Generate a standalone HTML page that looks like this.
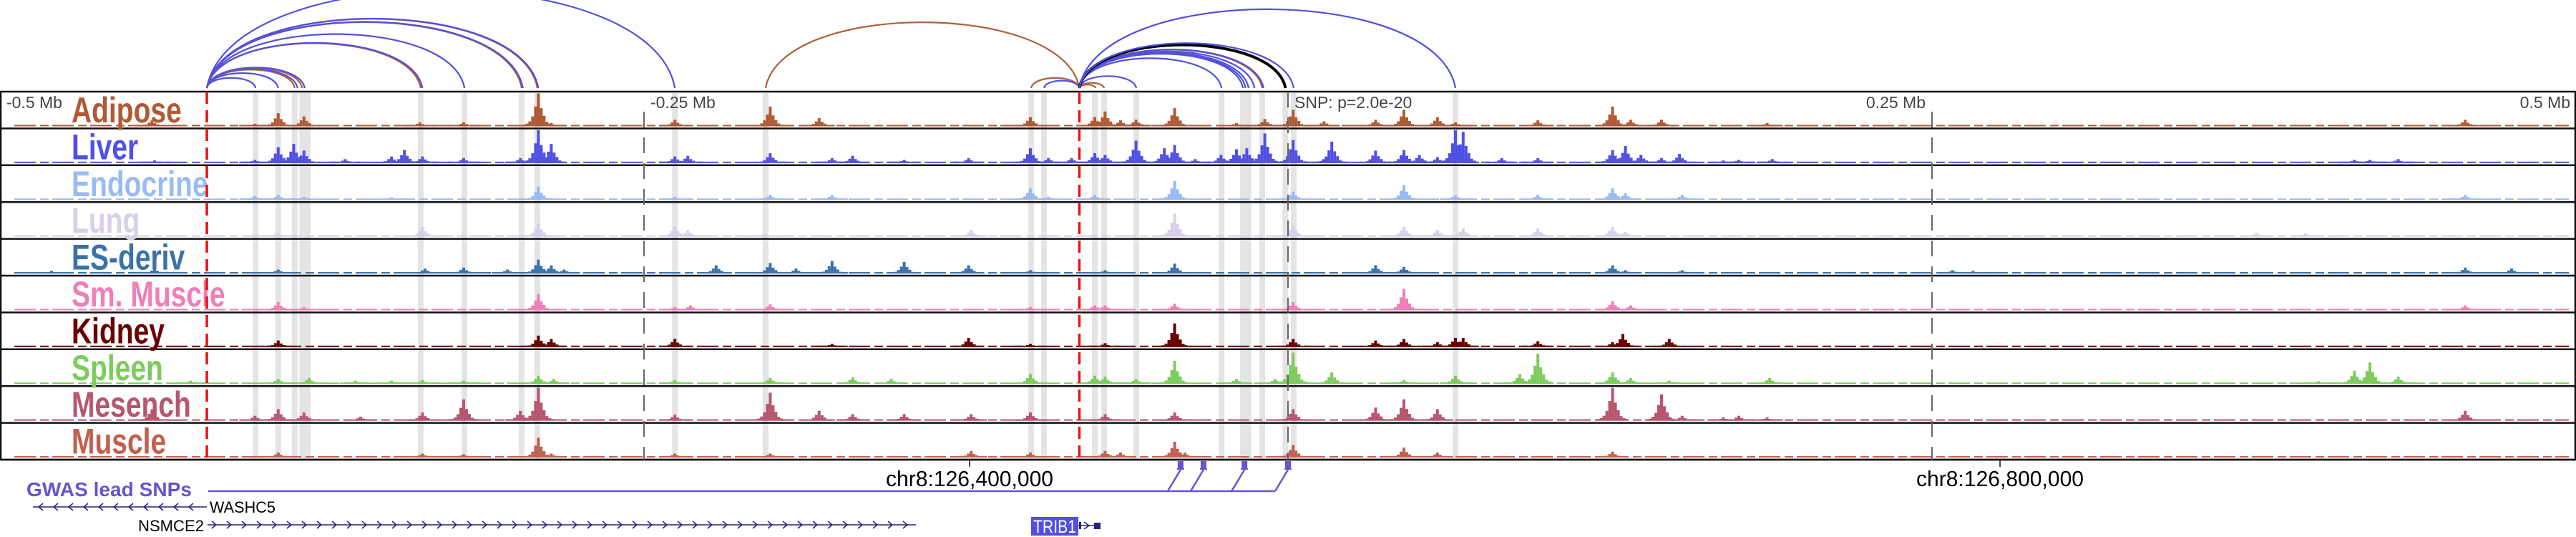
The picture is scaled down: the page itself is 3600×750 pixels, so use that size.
<!DOCTYPE html>
<html><head><meta charset="utf-8"><style>
html,body{margin:0;padding:0;background:#fff;}
svg{display:block;}
text{font-family:"Liberation Sans",sans-serif;}
</style></head><body>
<svg id="chart" width="3600" height="750" viewBox="0 0 3600 750" xmlns="http://www.w3.org/2000/svg">
<g id="highlights"></g>
<g id="arcs"></g>
<g id="tracks"></g>
<g id="axisG"></g>
<g id="bottom"></g>
</svg>
<script>
// ---- data (positions in kb relative to the lead SNP) ----
const trackNames = ["Adipose","Liver","Endocrine","Lung","ES-deriv","Sm. Muscle","Kidney","Spleen","Mesench","Muscle"];
const trackColors = ["#b05a35","#5050e6","#99bbf5","#d8d0ea","#3a72a8","#f07fb8","#6b0000","#7ccc5c","#b8556f","#c06050"];
const axisTickKb = [-500,-250,0,250,500];
const axisTickLabels = ["-0.5 Mb","-0.25 Mb","SNP: p=2.0e-20","0.25 Mb","0.5 Mb"];
const highlightKb = [-400.8,-392,-385.6,-382.7,-380.5,-336.7,-319.7,-297.5,-291.4,-238,-202.8,-99.7,-94.7,-75,-71.4,-58.9,-25.8,-17.5,-15.3,-10,-1,2.2,65];
const anchorKb = [-419.7,-81];
const arcStarts = [-419.7,-419.7,-419.7,-419.7,-419.7,-419.7,-419.7,-419.7,-419.7,-419.7,-419.7,-419.7,-419.7,-419.7,-202.8,-99.7,-94.7,-81,-81,-81,-81,-81,-81,-81,-81,-81,-81,-81,-81,-81];
const arcEnds   = [-400.8,-392,-385.6,-384.5,-382.7,-381.7,-336.7,-336,-319.7,-297.5,-297,-291.4,-291,-238,-81,-81,-81,-74.7,-71.4,-58.9,-25.8,-17.5,-16.5,-15.3,-13,-10,-9.5,-1,2.2,65];
const arcColors = ["#5050e0","#5050e0","#b0603c","#5050e0","#b0603c","#5050e0","#b0603c","#5050e0","#5050e0","#b0603c","#5050e0","#b0603c","#5050e0","#5050e0","#b0603c","#b0603c","#5050e0","#b0603c","#b0603c","#5050e0","#5050e0","#5050e0","#5050e0","#5050e0","#5050e0","#b0603c","#5050e0","#000000","#5050e0","#5050e0"];
const snpKb = [-41.7,-32.8,-16.9,0];
const chromTickKb = [-123.6,276.4];
const chromTickLabels = ["chr8:126,400,000","chr8:126,800,000"];
const peaks = [
 [[-441,18],[-401,8],[-392,40],[-382,30],[-337,12],[-320,12],[-291,100],[-286,10],[-238,20],[-201,60],[-182,25],[-100,28],[-75,28],[-71,45],[-65,18],[-59,20],[-44,55],[-20,10],[-9,22],[2,50],[14,15],[34,20],[45,50],[58,28],[65,12],[97,18],[126,60],[133,20],[145,20],[186,10],[457,20]],
 [[-440,8],[-401,10],[-392,48],[-386,58],[-382,38],[-366,12],[-348,20],[-343,40],[-336,20],[-320,15],[-298,15],[-291,100],[-286,58],[-238,20],[-233,22],[-201,30],[-177,15],[-169,22],[-149,10],[-124,15],[-100,45],[-93,15],[-84,15],[-75,30],[-71,25],[-59,68],[-48,45],[-44,55],[-36,12],[-26,25],[-20,42],[-16,45],[-9,90],[2,70],[15,20],[17,65],[34,38],[45,40],[51,25],[58,18],[65,100],[68,95],[83,15],[97,15],[126,40],[131,52],[137,25],[145,15],[152,28],[169,8],[175,10],[188,12],[414,10],[420,10],[431,12]],
 [[-401,12],[-392,15],[-382,10],[-348,8],[-291,40],[-238,10],[-201,15],[-177,15],[-100,35],[-93,10],[-75,15],[-44,58],[2,25],[45,45],[65,15],[97,15],[126,35],[131,20],[153,15],[457,15]],
 [[-392,12],[-336,30],[-291,40],[-238,30],[-233,20],[-203,10],[-123,20],[-44,70],[2,35],[45,30],[58,20],[68,25],[97,25],[126,30],[131,15],[376,12],[395,10]],
 [[-480,8],[-440,15],[-392,12],[-335,15],[-320,18],[-303,12],[-291,42],[-286,25],[-281,12],[-222,25],[-201,32],[-191,15],[-177,38],[-149,35],[-124,25],[-100,10],[-71,10],[-44,30],[34,25],[45,20],[126,25],[131,10],[153,10],[258,10],[266,8],[457,18],[475,15]],
 [[-392,25],[-382,10],[-291,50],[-238,10],[-232,15],[-201,18],[-100,10],[-75,15],[-71,15],[-44,20],[2,25],[45,65],[126,28],[133,15],[457,15]],
 [[-392,20],[-291,35],[-286,25],[-238,25],[-177,10],[-124,28],[-100,10],[-71,12],[-44,72],[2,25],[34,20],[45,25],[58,15],[65,28],[68,28],[97,18],[126,15],[130,40],[148,25]],
 [[-426,10],[-392,15],[-380,18],[-362,10],[-348,10],[-336,12],[-320,10],[-291,25],[-285,15],[-238,12],[-201,18],[-169,20],[-154,15],[-100,30],[-75,25],[-71,22],[-59,15],[-44,70],[-20,15],[-5,15],[2,95],[17,35],[45,12],[65,25],[90,30],[97,92],[126,35],[133,18],[148,10],[187,18],[400,8],[414,40],[420,65],[431,22]],
 [[-441,35],[-401,15],[-392,35],[-382,25],[-360,12],[-336,25],[-320,65],[-298,30],[-291,100],[-238,18],[-201,85],[-182,30],[-169,20],[-149,20],[-123,20],[-100,25],[-71,20],[-44,25],[2,35],[34,40],[45,65],[58,35],[126,100],[145,80],[153,15],[169,10],[175,15],[186,10],[457,30]],
 [[-392,15],[-336,12],[-320,10],[-291,60],[-286,12],[-238,12],[-201,12],[-123,20],[-100,15],[-71,20],[-65,15],[-44,48],[-40,15],[2,38],[45,30],[58,15],[126,18]]
];

// ---- drawing ----
const NS="http://www.w3.org/2000/svg";
function X(kb){return 1800+kb*3.6;}
const TOP=128, ROWH=51.4, NT=10;
function mk(tag,attrs,parent){const e=document.createElementNS(NS,tag);for(const k in attrs)e.setAttribute(k,attrs[k]);parent.appendChild(e);return e;}
const hl=document.getElementById('highlights'), arcsG=document.getElementById('arcs'), tr=document.getElementById('tracks'), ax=document.getElementById('axisG'), bt=document.getElementById('bottom');
const PANEL_BOTTOM=TOP+ROWH*NT;

highlightKb.forEach(k=>{
  const r=mk('rect',{x:X(k)-4,y:TOP+2,width:8,height:PANEL_BOTTOM-TOP-4,fill:'#e4e4e4'},hl);
  
  
});

const ARC_BASE=123;
arcStarts.forEach((s,i)=>{
  const x1=X(s),x2=X(arcEnds[i]);
  const w=Math.abs(x2-x1), h=w*0.21;
  const mx=(x1+x2)/2;
  const p=mk('path',{d:`M${x1},${ARC_BASE} C${x1+(mx-x1)*0.1},${ARC_BASE-h*1.33} ${x2-(x2-mx)*0.1},${ARC_BASE-h*1.33} ${x2},${ARC_BASE}`,fill:'none',stroke:arcColors[i],'stroke-width':arcColors[i]==='#000000'?4:2.2},arcsG);
  
  
});

const binW=4, pk=[[0,1],[-1,0.6],[1,0.55],[-2,0.3],[2,0.32],[-3,0.15],[3,0.14],[4,0.08],[-4,0.08],[5,0.05],[-5,0.05]];
trackNames.forEach((name,i)=>{
  const top=TOP+i*ROWH, base=top+ROWH-3;
  const g=mk('g',{},tr);
  
  
  const bl=mk('line',{x1:20,y1:base-1,x2:3590,y2:base-1,stroke:trackColors[i],'stroke-width':2,'stroke-dasharray':'30 6 12 5'},g);
  
  
  peaks[i].forEach(([kb,v])=>{
    const cx=X(kb), H=v/100*46;
    pk.forEach(([o,f])=>{
      const hh=Math.max(H*f,2);
      const r=mk('rect',{x:cx+o*binW-binW/2,y:base-hh,width:binW,height:hh,fill:trackColors[i]},g);
      
      
    });
  });
  const sep=mk('line',{x1:0,y1:top+ROWH,x2:3600,y2:top+ROWH,stroke:'#111','stroke-width':2.5},g);
  
  
  const t=mk('text',{x:0,y:0,'font-size':50,'font-weight':'bold',fill:trackColors[i],transform:`translate(100,${top+43}) scale(0.78,1)`},g);
  t.textContent=name;
  
  
});
const fr=mk('rect',{x:1,y:TOP,width:3598,height:PANEL_BOTTOM-TOP,fill:'none',stroke:'#111','stroke-width':2.5},tr);



axisTickKb.forEach((k,i)=>{
  const x=X(k);
  if(i>0&&i<4){
    const l=mk('line',{x1:x,y1:i===2?TOP:TOP+28,x2:x,y2:PANEL_BOTTOM,stroke:'#666','stroke-width':2,'stroke-dasharray':'22 14'},ax);
    
    
  }
  let tx,anchor;
  if(i===0){tx=9;anchor='start';}else if(i===4){tx=3592;anchor='end';}
  else if(i===3){tx=x-9;anchor='end';}else{tx=x+9;anchor='start';}
  const t=mk('text',{x:tx,y:151,'font-size':23,fill:'#444','text-anchor':anchor},ax);
  t.textContent=axisTickLabels[i];
  
  
});
anchorKb.forEach(k=>{
  const l=mk('line',{x1:X(k),y1:TOP,x2:X(k),y2:PANEL_BOTTOM,stroke:'#ee1111','stroke-width':3.5,'stroke-dasharray':'17 9'},ax);
  
  
});

chromTickKb.forEach((k,i)=>{
  const x=X(k);
  const l=mk('line',{x1:x,y1:PANEL_BOTTOM,x2:x,y2:PANEL_BOTTOM+10,stroke:'#111','stroke-width':1.5},bt);
  
  
  const t=mk('text',{x:x,y:679,'font-size':31,fill:'#000','text-anchor':'middle',textLength:234,lengthAdjust:'spacingAndGlyphs'},bt);
  t.textContent=chromTickLabels[i];
  
  
});
const gl=mk('text',{x:37,y:693,'font-size':28,'font-weight':'bold',fill:'#6655cc',textLength:231,lengthAdjust:'spacingAndGlyphs'},bt);
gl.textContent='GWAS lead SNPs';


const hline=mk('line',{x1:291,y1:686,x2:X(snpKb[snpKb.length-1])-18,y2:686,stroke:'#6655cc','stroke-width':2.5},bt);


snpKb.forEach(k=>{
  const x=X(k);
  const r=mk('rect',{x:x-4,y:644,width:8,height:10,fill:'#6655cc'},bt);
  
  
  mk('line',{x1:x-5,y1:655,x2:x+5,y2:655,stroke:'#6655cc','stroke-width':2},bt);
  const d=mk('line',{x1:x,y1:656,x2:x-18,y2:686,stroke:'#6655cc','stroke-width':2.5},bt);
  
  
});
function gene(x1,x2,y,dir,name){
  const g=mk('g',{},bt);
  
  
  mk('line',{x1:x1,y1:y,x2:x2,y2:y,stroke:'#22227a','stroke-width':1.5},g);
  for(let x=x1+10;x<x2-4;x+=21){
    const p=dir>0?`M${x-4},${y-5} L${x+2},${y} L${x-4},${y+5}`:`M${x+4},${y-5} L${x-2},${y} L${x+4},${y+5}`;
    mk('path',{d:p,fill:'none',stroke:'#22227a','stroke-width':1.5},g);
  }
  return g;
}
gene(46,289,708,-1,'WASHC5');
const w5=mk('text',{x:293,y:716,'font-size':22,fill:'#000',textLength:92,lengthAdjust:'spacingAndGlyphs'},bt);
w5.textContent='WASHC5';


gene(290,1280,733,1,'NSMCE2');
const n2=mk('text',{x:285,y:742,'font-size':22,fill:'#000','text-anchor':'end',textLength:92,lengthAdjust:'spacingAndGlyphs'},bt);
n2.textContent='NSMCE2';


const tb=mk('rect',{x:1441,y:722,width:66,height:26,fill:'#5050e0'},bt);


const tt=mk('text',{x:1444,y:744,'font-size':25,fill:'#fff',textLength:60,lengthAdjust:'spacingAndGlyphs'},bt);
tt.textContent='TRIB1';


mk('line',{x1:1507,y1:734,x2:1537,y2:734,stroke:'#22227a','stroke-width':1.5},bt);
mk('rect',{x:1508,y:729,width:3,height:10,fill:'#22227a'},bt);
mk('path',{d:'M1515,729 L1522,734 L1515,739',fill:'none',stroke:'#22227a','stroke-width':1.5},bt);
mk('rect',{x:1529,y:730,width:9,height:9,fill:'#22227a'},bt);
</script>
</body></html>
